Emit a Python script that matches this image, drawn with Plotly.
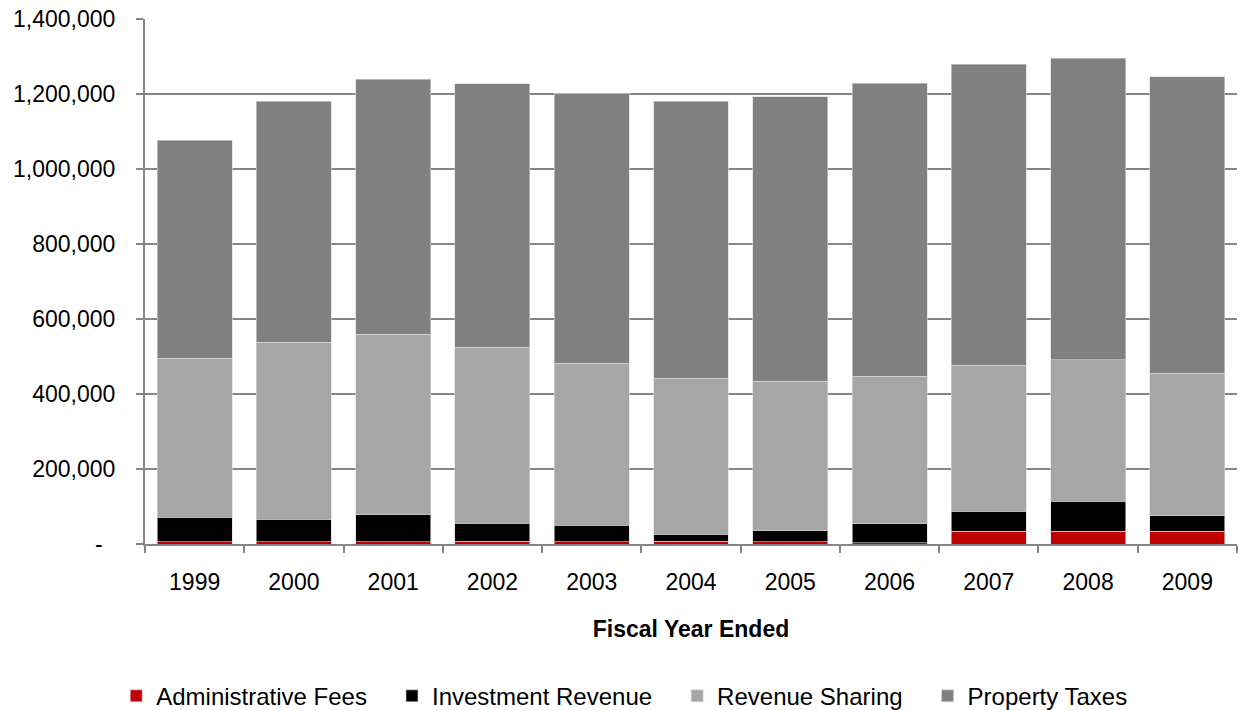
import plotly.graph_objects as go

years = ["1999", "2000", "2001", "2002", "2003", "2004", "2005", "2006", "2007", "2008", "2009"]

admin_fees = [6500, 6000, 6000, 7000, 6500, 8000, 6000, 4000, 33500, 34000, 33500]
investment_revenue = [65000, 60000, 72000, 48500, 43500, 18000, 30000, 50500, 54000, 79500, 42500]
revenue_sharing = [423500, 471500, 481000, 469000, 431500, 415500, 397500, 393000, 389500, 378000, 379500]
property_taxes = [581500, 643000, 680500, 702500, 720500, 739000, 759500, 781000, 802500, 804000, 791000]

y_ticks = [0, 200000, 400000, 600000, 800000, 1000000, 1200000, 1400000]
y_tick_text = ["-\u00a0\u00a0", "200,000", "400,000", "600,000", "800,000", "1,000,000", "1,200,000", "1,400,000"]

series = [
    ("Administrative Fees", admin_fees, "#C00000"),
    ("Investment Revenue", investment_revenue, "#000000"),
    ("Revenue Sharing", revenue_sharing, "#A6A6A6"),
    ("Property Taxes", property_taxes, "#808080"),
]

# trailing non-breaking spaces widen the gap between legend entries
pad = "\u00a0" * 3

fig = go.Figure()
for i, (name, vals, color) in enumerate(series):
    label = name if i == len(series) - 1 else name + pad
    fig.add_trace(go.Bar(
        x=years, y=vals, name=label,
        marker=dict(color=color, line=dict(color="#D9D9D9", width=0.6)),
    ))

font_family = "Liberation Sans, Arial, sans-serif"
fs = 23

fig.update_layout(
    barmode="stack",
    bargap=0.245,
    width=1241, height=710,
    margin=dict(l=145, r=4, t=19, b=166, autoexpand=False),
    paper_bgcolor="white",
    plot_bgcolor="white",
    font=dict(family=font_family, size=fs, color="#000000"),
    showlegend=True,
    legend=dict(
        orientation="h",
        xref="container", yref="paper",
        x=0.503, xanchor="center",
        y=-0.29, yanchor="middle",
        font=dict(size=24),
        itemwidth=30,
        traceorder="normal",
        tracegroupgap=0,
    ),
    xaxis=dict(
        showline=True, linecolor="#868686", linewidth=2,
        ticks="outside", tickson="boundaries", ticklen=7, tickcolor="#868686", tickwidth=2,
        tickfont=dict(size=fs),
        tickangle=0,
        ticklabelstandoff=16,
        title=dict(text="<b>Fiscal Year Ended</b>", font=dict(size=fs), standoff=27),
        showgrid=False,
    ),
    yaxis=dict(
        range=[0, 1400000],
        tickvals=y_ticks, ticktext=y_tick_text,
        showline=True, linecolor="#868686", linewidth=2,
        ticks="outside", ticklen=7, tickcolor="#868686", tickwidth=2,
        ticklabelstandoff=16,
        showgrid=True, gridcolor="#868686", gridwidth=1.5,
        zeroline=False,
        tickfont=dict(size=fs),
    ),
)

fig.write_html("out.html")
